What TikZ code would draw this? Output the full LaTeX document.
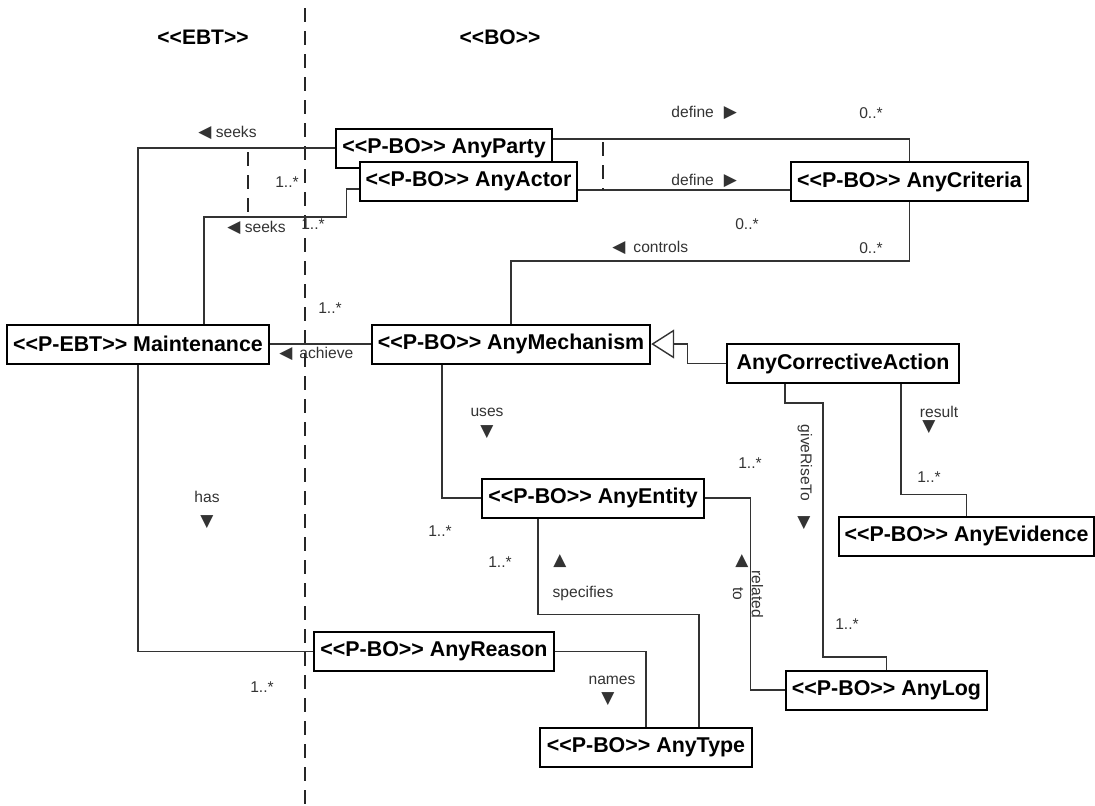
\documentclass[tikz,border=0pt]{standalone}
\usepackage{fontspec}
\setmainfont{Liberation Sans}[Ligatures=TeXOff]
\newfontfamily\symf{DejaVu Sans}
\usetikzlibrary{arrows.meta}
\newcommand{\dirL}{{\symf\fontsize{8.5}{9}\selectfont ◀}}
\newcommand{\dirR}{{\symf\fontsize{8.5}{9}\selectfont ▶}}
\newcommand{\dirU}{{\symf\fontsize{8.5}{9}\selectfont ▲}}
\newcommand{\dirD}{{\symf\fontsize{8.5}{9}\selectfont ▼}}
\tikzset{
  cls/.style={draw,fill=white,line width=1pt,font=\fontsize{10.7}{12}\selectfont\bfseries,
    minimum height=19.5pt,inner xsep=3pt,inner ysep=0pt},
  pkg/.style={font=\fontsize{10.5}{12}\selectfont\bfseries,inner sep=0pt},
  lbl/.style={font=\fontsize{7.8}{9.4}\selectfont,text=black!80,inner sep=0pt},
  asc/.style={draw=black!80,line width=.7pt},
  sep/.style={draw=black!85,line width=1pt,dash pattern=on 7pt off 4.5pt},
}
\begin{document}
\begin{tikzpicture}[x=.5pt,y=-.5pt]
\useasboundingbox (0,0) rectangle (1095,805);
\node[pkg] (ebt) at (203,37) {<<EBT>>};
\node[pkg] (bo) at (500,37) {<<BO>>};
\draw[sep] (305,8) -- (305,805);
%
\node[cls,minimum width=107pt] (party) at (444,148) {<<P-BO>> AnyParty};
\node[cls,minimum width=108.5pt] (actor) at (468.5,181) {<<P-BO>> AnyActor};
\node[cls,minimum width=118.5pt] (crit) at (909.5,181.5) {<<P-BO>> AnyCriteria};
\node[cls,minimum width=130pt] (maint) at (138,344) {<<P-EBT>> Maintenance};
\node[cls,minimum width=139pt] (mech) at (511,344) {<<P-BO>> AnyMechanism};
\node[cls,minimum width=116pt] (cact) at (843,363.5) {AnyCorrectiveAction};
\node[cls,minimum width=110pt] (entity) at (593,498) {<<P-BO>> AnyEntity};
\node[cls,minimum width=127pt] (evid) at (966.5,536) {<<P-BO>> AnyEvidence};
\node[cls,minimum width=119pt] (reason) at (434,651.5) {<<P-BO>> AnyReason};
\node[cls,minimum width=106pt] (type) at (646,747) {<<P-BO>> AnyType};
\node[cls,minimum width=100.5pt] (log) at (886.5,690) {<<P-BO>> AnyLog};
%
% seeks
\draw[asc] (party.west) -| (maint.north);
\draw[asc] ([yshift=-4pt]actor.west) -| ++(-12,28) -| ([xshift=33pt]maint.north);
\draw[sep] (248,152) -- (248,213);
% define
\draw[asc] ([yshift=4.5pt]party.east) -| (crit.north);
\draw[asc] ([yshift=-4.5pt]actor.east) -- ([yshift=-4.5pt]actor.east -| crit.west);
\draw[sep] (603,142) -- (603,190);
% controls, achieve
\draw[asc] (crit.south) -- ++(0,59) -| (mech.north);
\draw[asc] (mech.west) -- (maint.east);
% generalization
\draw[asc,-{Triangle[open,length=11.5pt,width=14.5pt]}] (cact.west) -| ([xshift=18pt]mech.east) -- (mech.east);
% uses, has
\draw[asc] ([xshift=-34.5pt]mech.south) |- (entity.west);
\draw[asc] (maint.south) |- (reason.west);
% specifies, names, related to
\draw[asc] ([xshift=-27.5pt]entity.south) -- ++(0,96) -| ([xshift=26.5pt]type.north);
\draw[asc] (reason.east) -| (type.north);
\draw[asc] (entity.east) -- ++(46,0) |- (log.west);
% giveRiseTo, result
\draw[asc] ([xshift=-29pt]cact.south) -- ++(0,19) -| ++(38,254) -| (log.north);
\draw[asc] ([xshift=29pt]cact.south) -- ++(0,110.5) -| (evid.north);
%
\node[lbl,anchor=west] (seeksA) at (198,133) {\dirL\ seeks};
\node[lbl] (mA) at (287,182) {1..*};
\node[lbl,anchor=west] (seeksB) at (227,228) {\dirL\ seeks};
\node[lbl] (mB) at (313,224) {1..*};
\node[lbl,anchor=west] (defA) at (671,113) {define\hspace{5pt}\dirR};
\node[lbl] (mC) at (871,113) {0..*};
\node[lbl,anchor=west] (defB) at (671,181) {define\hspace{5pt}\dirR};
\node[lbl] (mD) at (747,224) {0..*};
\node[lbl,anchor=west] (ctrl) at (612,248) {\dirL\hspace{4pt}controls};
\node[lbl] (mE) at (871,248) {0..*};
\node[lbl] (mF) at (330,308) {1..*};
\node[lbl,anchor=west] (ach) at (279,354) {\dirL\hspace{3.5pt}achieve};
\node[lbl] (uses) at (487,412) {uses};
\node[lbl] (usesD) at (487,432) {\dirD};
\node[lbl] (has) at (207,497) {has};
\node[lbl] (hasD) at (207,522) {\dirD};
\node[lbl] (mG) at (440,531) {1..*};
\node[lbl] (mH) at (500,562) {1..*};
\node[lbl] (specU) at (560,561) {\dirU};
\node[lbl] (spec) at (583,593) {specifies};
\node[lbl] (mI) at (262,687) {1..*};
\node[lbl] (names) at (612,680) {names};
\node[lbl] (namesD) at (608,699) {\dirD};
\node[lbl] (mJ) at (750,463) {1..*};
\node[lbl,rotate=-90] (give) at (805,463) {giveRiseTo};
\node[lbl] (giveD) at (804,523) {\dirD};
\node[lbl] (result) at (939,412) {result};
\node[lbl] (resultD) at (929,427) {\dirD};
\node[lbl] (mK) at (929,477) {1..*};
\node[lbl] (relU) at (742,561) {\dirU};
\node[lbl,rotate=-90,align=center] (rel) at (748,594) {related\\to};
\node[lbl] (mL) at (847,624) {1..*};
\end{tikzpicture}
\end{document}
